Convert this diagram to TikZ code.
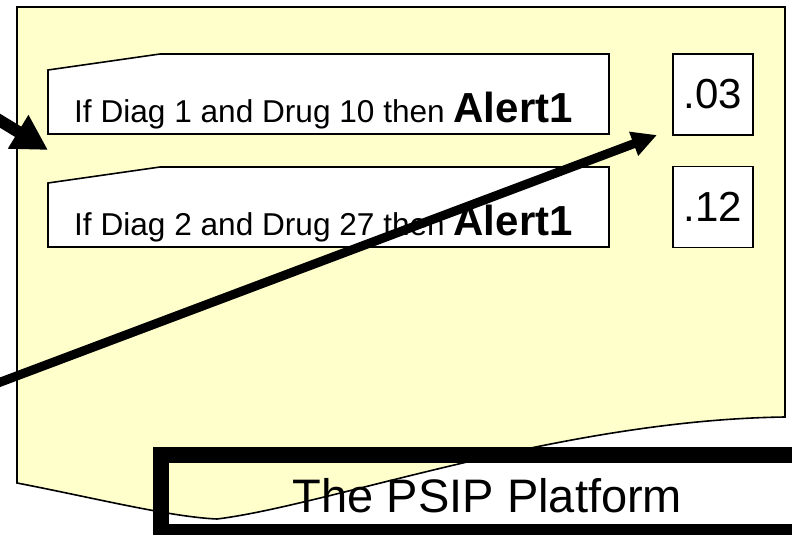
\documentclass[tikz,border=0pt]{standalone}
\usepackage{fontspec}
\setmainfont{Liberation Sans}
\usetikzlibrary{arrows.meta}
\definecolor{docyellow}{RGB}{255,255,204}
\begin{document}
\begin{tikzpicture}[x=1pt,y=-1pt,
  thinframe/.style={draw=black,line width=1.6pt},
  rulebox/.style={thinframe,fill=white},
  valbox/.style={thinframe,fill=white,minimum width=80pt,minimum height=81pt,inner sep=0pt,
    font=\fontsize{42}{50}\selectfont},
  ruletext/.style={anchor=base west,inner sep=0pt},
  bigarrow/.style={draw=black,line width=12pt,-{Triangle[length=35pt,width=37pt]}},
  midarrow/.style={draw=black,line width=9pt,-{Triangle[length=25pt,width=24pt]}}]
\useasboundingbox (0,0) rectangle (792,535);
% document shape
\path[fill=docyellow,draw=black,line width=1.6pt]
  (17,7) -- (785,7) -- (785,417)
  .. controls (560,420) and (330,505) .. (217,519)
  .. controls (170,517) and (90,497) .. (17,483) -- cycle;
% rule boxes with folded corner
\path[rulebox] (48,70) -- (160,54) -- (609,54) -- (609,134) -- (48,134) -- cycle;
\path[rulebox] (48,183) -- (160,167) -- (609,167) -- (609,247) -- (48,247) -- cycle;
\node[ruletext] (r1) at (74,122) {\fontsize{31.6}{38}\selectfont If Diag 1 and Drug 10 then \fontsize{42}{50}\selectfont\bfseries Alert1};
\node[ruletext] (r2) at (74,235) {\fontsize{31.6}{38}\selectfont If Diag 2 and Drug 27 then \fontsize{42}{50}\selectfont\bfseries Alert1};
% value boxes
\node[valbox] (v1) at (713,94.5) {.03};
\node[valbox] (v2) at (713,207) {.12};
% platform frame
\draw[line width=16pt] (161,455) rectangle (830,532);
\node[anchor=base,inner sep=0pt] (psip) at (487.5,512) {\fontsize{47}{56}\selectfont The PSIP Platform};
% arrows
\coordinate (a1s) at (-12,113.4);
\coordinate (a1e) at (48,150);
\coordinate (a2s) at (-10,386);
\coordinate (a2e) at (657,135);
\draw[bigarrow] (a1s) -- (a1e);
\draw[midarrow] (a2s) -- (a2e);
\end{tikzpicture}
\end{document}
